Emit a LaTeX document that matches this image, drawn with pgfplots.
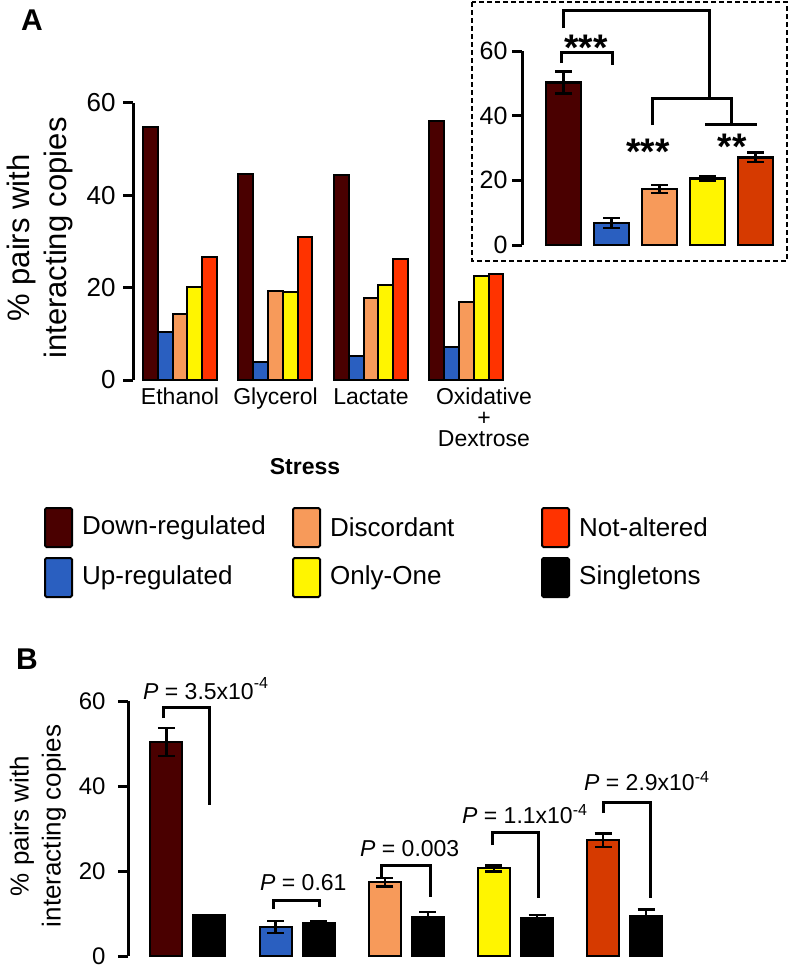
\documentclass[border=0pt]{standalone}
\usepackage{pgfplots}
\pgfplotsset{compat=1.18}
\usepackage{fontspec}
\setmainfont{Liberation Sans}
\definecolor{dred}{HTML}{4A0000}
\definecolor{ublue}{HTML}{2A5FC0}
\definecolor{dorange}{HTML}{F79A5A}
\definecolor{oyellow}{HTML}{FFF500}
\definecolor{nred}{HTML}{FF3300}
\definecolor{nredb}{HTML}{D63A00}
\newcommand\fs[2]{\fontsize{#1}{#2}\selectfont}
\pgfplotsset{
  panel/.style={
    anchor=south west,
    axis y line*=left, axis x line=none,
    y axis line style={line width=3pt,-},
    ytick={0,20,40,60}, ymin=0, ymax=60,
    tick align=outside, major tick length=10pt,
    ytick style={line width=3pt,black},
    clip=false,
    /pgf/number format/assume math mode=true,
  },
  ebars/.style={error bars/.cd, y dir=both, y explicit,
    error bar style={line width=2.5pt,black},
    error mark options={rotate=90,mark size=8.5pt,line width=2.5pt,black}},
}
\begin{document}
\begin{tikzpicture}
\path[use as bounding box] (0,0) rectangle (790pt,-972pt);

% ---------------- Panel A main ----------------
\begin{axis}[panel, at={(133pt,-380pt)}, x=95.5pt, y=4.617pt,
  xmin=-0.492, xmax=3.56, ybar=0pt, bar width=14.8pt,
  yticklabel style={font=\fs{26}{30}, xshift=-4pt}]
\addplot[fill=dred, draw=black, line width=2pt] coordinates {(0,54.8)(1,44.6)(2,44.4)(3,56.1)};
\addplot[fill=ublue, draw=black, line width=2pt] coordinates {(0,10.3)(1,3.8)(2,5.3)(3,7.2)};
\addplot[fill=dorange, draw=black, line width=2pt] coordinates {(0,14.4)(1,19.3)(2,17.8)(3,17.0)};
\addplot[fill=oyellow, draw=black, line width=2pt] coordinates {(0,20.2)(1,19.0)(2,20.6)(3,22.5)};
\addplot[fill=nred, draw=black, line width=2pt] coordinates {(0,26.7)(1,30.9)(2,26.3)(3,23.0)};
\node[anchor=north, inner sep=0pt, font=\fs{23}{21}] at (axis cs:0,0) [yshift=-8pt] {Ethanol};
\node[anchor=north, inner sep=0pt, font=\fs{23}{21}] at (axis cs:1,0) [yshift=-8pt] {Glycerol};
\node[anchor=north, inner sep=0pt, font=\fs{23}{21}] at (axis cs:2,0) [yshift=-8pt] {Lactate};
\node[anchor=north, inner sep=0pt, font=\fs{23}{21}, align=center] at (axis cs:3,0) [yshift=-8pt, xshift=17.5pt] {Oxidative\\+\\Dextrose};
\end{axis}

% ---------------- Panel A inset ----------------
\begin{axis}[panel, at={(522pt,-245pt)}, x=48pt, y=3.233pt,
  xmin=-0.865, xmax=4.51, ybar, bar width=35pt,
  yticklabel style={font=\fs{25}{29}, xshift=-1pt}]
\addplot[fill=dred, draw=black, line width=2.5pt, bar shift=0pt, ebars] coordinates {(0,50.2) +- (0,3.4)};
\addplot[fill=ublue, draw=black, line width=2.5pt, bar shift=0pt, ebars] coordinates {(1,6.8) +- (0,1.5)};
\addplot[fill=dorange, draw=black, line width=2.5pt, bar shift=0pt, ebars] coordinates {(2,17.3) +- (0,1.2)};
\addplot[fill=oyellow, draw=black, line width=2.5pt, bar shift=0pt, ebars] coordinates {(3,20.6) +- (0,0.6)};
\addplot[fill=nredb, draw=black, line width=2.5pt, bar shift=0pt, ebars] coordinates {(4,27.1) +- (0,1.5)};
\end{axis}

% ---------------- Panel B ----------------
\begin{axis}[panel, at={(128pt,-956pt)}, x=109.2pt, y=4.25pt,
  xmin=-0.5485, xmax=4.51, ybar, bar width=32pt,
  yticklabel style={font=\fs{24}{28}, xshift=-9pt}]
\addplot[fill=dred, draw=black, line width=2pt, bar shift=-21.5pt, ebars] coordinates {(0,50.4) +- (0,3.3)};
\addplot[fill=ublue, draw=black, line width=2pt, bar shift=-21.5pt, ebars] coordinates {(1,6.8) +- (0,1.4)};
\addplot[fill=dorange, draw=black, line width=2pt, bar shift=-21.5pt, ebars] coordinates {(2,17.3) +- (0,1.0)};
\addplot[fill=oyellow, draw=black, line width=2pt, bar shift=-21.5pt, ebars] coordinates {(3,20.6) +- (0,0.7)};
\addplot[fill=nredb, draw=black, line width=2pt, bar shift=-21.5pt, ebars] coordinates {(4,27.2) +- (0,1.6)};
\addplot[fill=black, draw=black, line width=2pt, bar shift=21.5pt, ebars] coordinates {(0,9.6) +- (0,0) (1,7.7) +- (0,0.4) (2,9.1) +- (0,1.2) (3,8.9) +- (0,0.7) (4,9.4) +- (0,1.6)};
\end{axis}

% ---------------- annotations (pixel coordinates) ----------------
\begin{scope}[x=1pt, y=-1pt]
% panel letters
\node[font=\fs{30}{34}\bfseries] at (32,20) {A};
\node[font=\fs{30}{34}\bfseries] at (27,659) {B};
% panel A y label
\node[rotate=90, align=center, font=\fs{31}{37}] at (40,238) {\% pairs with\\interacting copies};
\node[font=\fs{23}{27}\bfseries] at (305,467) {Stress};
% inset box
\draw[dash pattern=on 5pt off 3pt, line width=1.8pt] (472,2) rectangle (787,261);
% inset significance brackets
\draw[line width=3pt] (563,28) -- (563,10) -- (709,10) -- (709,98);
\draw[line width=3pt] (652,125) -- (652,98) -- (731,98) -- (731,124);
\draw[line width=3pt] (705,124) -- (757,124);
\draw[line width=3pt] (561,63) -- (561,52) -- (612,52) -- (612,65);
\node[anchor=base, font=\fs{37}{40}\bfseries] at (586,60) {***};
\node[anchor=base, font=\fs{37}{40}\bfseries] at (648,164) {***};
\node[anchor=base, font=\fs{37}{40}\bfseries] at (732,159) {**};
% legend
\foreach \c/\x/\y/\t in {dred/45/508/Down-regulated, ublue/45/558/Up-regulated,
  dorange/293/508/Discordant, oyellow/293/558/Only-One,
  nred/542/508/Not-altered, black/542/558/Singletons}{
  \draw[fill=\c, line width=2pt, rounded corners=1.5pt] (\x,\y) rectangle ++(27,39);
  \node[anchor=west, inner sep=0pt, font=\fs{26}{30}] at (\x+37,\y+19.5) {\t};
}
% panel B y label
\node[rotate=90, align=center, font=\fs{26}{32}] at (38,826) {\% pairs with\\interacting copies};
% panel B brackets
\draw[line width=3pt] (163,718) -- (163,707) -- (209,707) -- (209,805);
\draw[line width=3pt] (273,909) -- (273,900) -- (319,900) -- (319,907);
\draw[line width=3pt] (381,877) -- (381,865) -- (430,865) -- (430,897);
\draw[line width=3pt] (492,845) -- (492,832) -- (538,832) -- (538,898);
\draw[line width=3pt] (603,813) -- (603,802) -- (650,802) -- (650,898);
\node[anchor=base west, inner sep=0pt, font=\fs{23}{26}] at (143,699) {\textit{P} = 3.5x10\raisebox{11pt}{\fs{16}{16}-4}};
\node[anchor=base west, inner sep=0pt, font=\fs{23}{26}] at (260,890) {\textit{P} = 0.61};
\node[anchor=base west, inner sep=0pt, font=\fs{23}{26}] at (360,856) {\textit{P} = 0.003};
\node[anchor=base west, inner sep=0pt, font=\fs{23}{26}] at (462,823) {\textit{P} = 1.1x10\raisebox{8pt}{\fs{16}{16}-4}};
\node[anchor=base west, inner sep=0pt, font=\fs{23}{26}] at (584,790) {\textit{P} = 2.9x10\raisebox{8pt}{\fs{16}{16}-4}};
\end{scope}
\end{tikzpicture}
\end{document}
